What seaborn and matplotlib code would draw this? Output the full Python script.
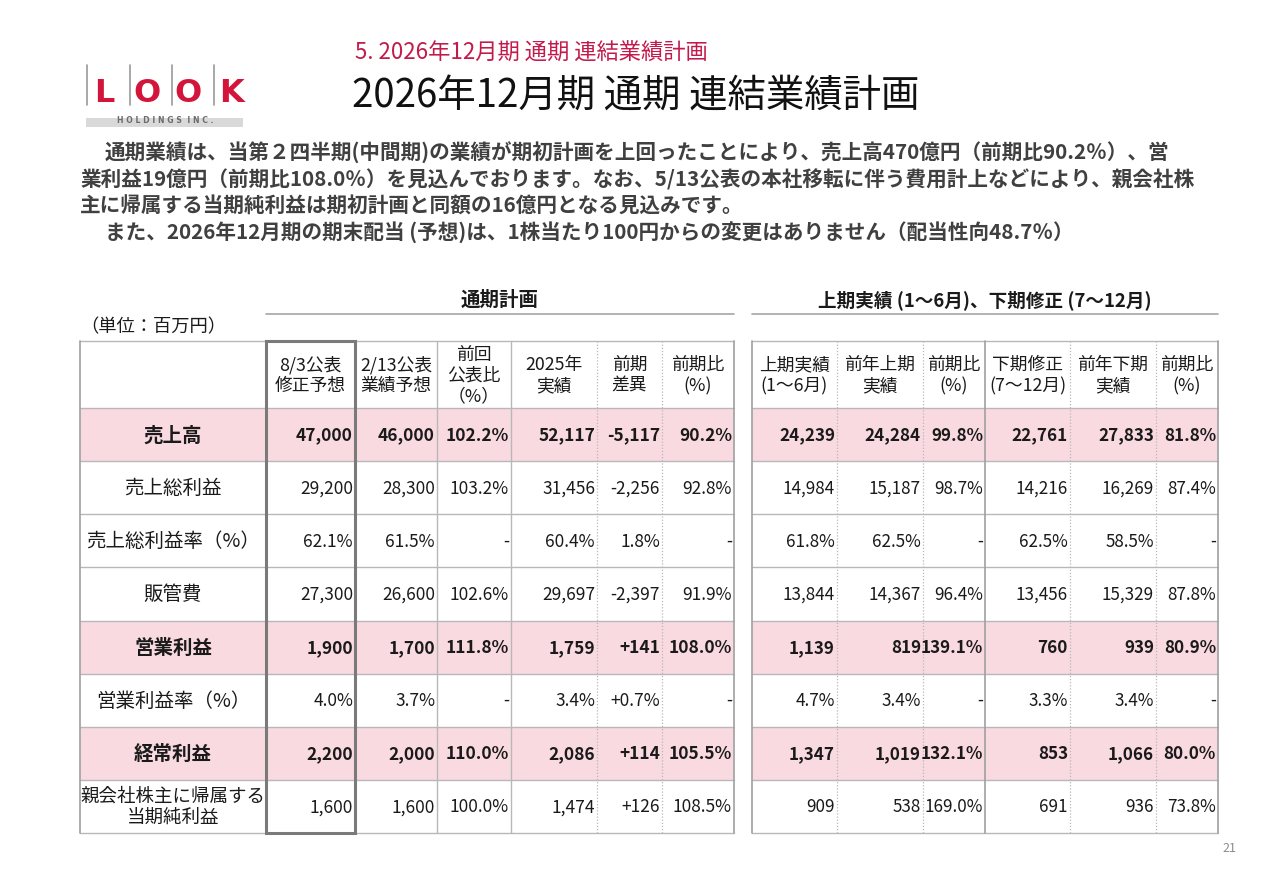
import matplotlib
matplotlib.use("Agg")
import matplotlib.pyplot as plt
from matplotlib.colors import ListedColormap
import numpy as np
import seaborn as sns

# ---------------- data ----------------
row_labels = ["売上高", "売上総利益", "売上総利益率（%）", "販管費", "営業利益",
              "営業利益率（%）", "経常利益", "親会社株主に帰属する\n当期純利益"]
row_kind = ["amt", "amt", "pct", "amt", "amt", "pct", "amt", "amt"]
row_highlight = [1, 0, 0, 0, 1, 0, 1, 0]

left_headers = ["8/3公表\n修正予想", "2/13公表\n業績予想", "前回\n公表比\n（%）",
                "2025年\n実績", "前期\n差異", "前期比\n(%)"]
right_headers = ["上期実績\n(1～6月)", "前年上期\n実績", "前期比\n(%)",
                 "下期修正\n(7～12月)", "前年下期\n実績", "前期比\n(%)"]

plan_revised = [47000, 29200, 62.1, 27300, 1900, 4.0, 2200, 1600]
plan_prev = [46000, 28300, 61.5, 26600, 1700, 3.7, 2000, 1600]
plan_vs_prev = [102.2, 103.2, None, 102.6, 111.8, None, 110.0, 100.0]
actual_2025 = [52117, 31456, 60.4, 29697, 1759, 3.4, 2086, 1474]
yoy_diff = ["-5,117", "-2,256", "1.8%", "-2,397", "+141", "+0.7%", "+114", "+126"]
yoy_ratio = [90.2, 92.8, None, 91.9, 108.0, None, 105.5, 108.5]

h1_actual = [24239, 14984, 61.8, 13844, 1139, 4.7, 1347, 909]
h1_prev = [24284, 15187, 62.5, 14367, 819, 3.4, 1019, 538]
h1_ratio = [99.8, 98.7, None, 96.4, 139.1, None, 132.1, 169.0]
h2_revised = [22761, 14216, 62.5, 13456, 760, 3.3, 853, 691]
h2_prev = [27833, 16269, 58.5, 15329, 939, 3.4, 1066, 936]
h2_ratio = [81.8, 87.4, None, 87.8, 80.9, None, 80.0, 73.8]

# ---------------- style ----------------
sns.set_theme(style="white")
plt.rcParams["font.family"] = ["Noto Sans CJK JP", "DejaVu Sans"]

W, H = 1280, 886
fig = plt.figure(figsize=(W / 100, H / 100), dpi=100)
fig.patch.set_facecolor("white")
renderer = fig.canvas.get_renderer()

PINK = "#f9dae1"
GRID = "#b8b8b8"
TXT = "#1a1a1a"


def px_axes(x0, y0, x1, y1, z=1):
    a = fig.add_axes([x0 / W, 1 - y1 / H, (x1 - x0) / W, (y1 - y0) / H])
    a.set_zorder(z)
    return a


ax = px_axes(0, 0, W, H, z=3)
ax.set_xlim(0, W)
ax.set_ylim(H, 0)
ax.axis("off")
ax.patch.set_alpha(0)


def fit(t, target):
    bb = t.get_window_extent(renderer)
    t.set_fontsize(t.get_fontsize() * target / bb.width)
    return t.get_fontsize()


# ---------------- logo ----------------
logo_red = "#d4153b"
for xb in [87, 130, 172, 214]:
    ax.plot([xb, xb], [65, 105], color="#9a9a9a", lw=1.2)
for ch, xc in zip("LOOK", [104, 147, 188, 232]):
    ax.text(xc, 93, ch, color=logo_red, fontsize=23, fontweight="bold",
            family=["DejaVu Sans"], ha="center", va="center")
ax.add_patch(plt.Rectangle((86, 118), 157, 9, color="#d9d9d9", lw=0))
t = ax.text(117, 120, "H O L D I N G S  I N C .", color="#6b6b6b", fontsize=7,
            family=["DejaVu Sans"], fontweight="bold", ha="left", va="center")
fit(t, 96)

# ---------------- titles ----------------
t = ax.text(355, 53, "5. 2026年12月期 通期 連結業績計画", color="#c41a4b",
            fontsize=15, ha="left", va="center")
fit(t, 353)
t = ax.text(352, 97, "2026年12月期 通期 連結業績計画", color="#111111",
            fontsize=27, ha="left", va="center")
fit(t, 568)

body = [
    (105, 153, "通期業績は、当第２四半期(中間期)の業績が期初計画を上回ったことにより、売上高470億円（前期比90.2％）、営"),
    (80, 180, "業利益19億円（前期比108.0％）を見込んでおります。なお、5/13公表の本社移転に伴う費用計上などにより、親会社株"),
    (80, 206, "主に帰属する当期純利益は期初計画と同額の16億円となる見込みです。"),
    (105, 233, "また、2026年12月期の期末配当 (予想)は、1株当たり100円からの変更はありません（配当性向48.7％）"),
]
btexts = []
for x, y, s in body:
    btexts.append(ax.text(x, y, s, color="#404040", fontsize=14,
                          fontweight="bold", ha="left", va="center"))
s1 = fit(btexts[0], 1192 - 105)
s2 = fit(btexts[1], 1196 - 80)
bs = min(s1, s2)
for bt in btexts:
    bt.set_fontsize(bs)

# ---------------- table geometry ----------------
cols_left = [80, 266, 355, 437, 511, 597, 662, 734]
cols_right = [752, 837, 923, 985, 1070, 1156, 1218]
y_top, y_head = 341, 408
y_bot = 833
n = len(row_labels)
row_h = (y_bot - y_head) / n
row_edges = [y_head + i * row_h for i in range(n + 1)]

# row backgrounds via seaborn heatmap
cmap = ListedColormap(["#ffffff", PINK])
hl = np.array(row_highlight).reshape(-1, 1)
for x0, x1 in [(cols_left[0], cols_left[-1]), (cols_right[0], cols_right[-1])]:
    hax = px_axes(x0, y_head, x1, y_bot, z=1)
    sns.heatmap(hl, ax=hax, cmap=cmap, vmin=0, vmax=1, cbar=False,
                xticklabels=False, yticklabels=False, linewidths=0)
    hax.axis("off")

# group titles
ax.text((cols_left[1] + cols_left[-1]) / 2, 300, "通期計画", fontsize=14,
        fontweight="bold", color=TXT, ha="center", va="center")
ax.plot([cols_left[1], cols_left[-1]], [314, 314], color="#a6a6a6", lw=1.2)
t = ax.text(818, 300, "上期実績 (1～6月)、下期修正 (7～12月)", fontsize=14,
            fontweight="bold", color=TXT, ha="left", va="center")
fit(t, 334)
ax.plot([cols_right[0], cols_right[-1]], [314, 314], color="#a6a6a6", lw=1.2)
t = ax.text(80, 327, "（単位：百万円）", fontsize=13, color=TXT,
            ha="left", va="center")
fit(t, 146)

# grid lines
for cols in (cols_left, cols_right):
    for ye in [y_top] + row_edges:
        ax.plot([cols[0], cols[-1]], [ye, ye], color=GRID, lw=1.0)
    ax.plot([cols[0], cols[0]], [y_top, y_bot], color="#a0a0a0", lw=1.2)
    ax.plot([cols[-1], cols[-1]], [y_top, y_bot], color="#a0a0a0", lw=1.2)

for xv in [437, 511]:
    ax.plot([xv, xv], [y_top, y_bot], color=GRID, lw=1.0)
for xv in [597, 662, 837, 923, 1070, 1156]:
    ax.plot([xv, xv], [y_top, y_bot], color=GRID, lw=0.9, ls=(0, (1, 1.5)))
ax.plot([985, 985], [y_top, y_bot], color="#a0a0a0", lw=1.2)
# highlighted column box
ax.add_patch(plt.Rectangle((266, y_top), 355 - 266, y_bot - y_top, fill=False,
                           edgecolor="#7a7a7a", lw=2.2, zorder=5))

# headers
head_y = (y_top + y_head) / 2 + 1
for i, h in enumerate(left_headers):
    xc = (cols_left[i + 1] + cols_left[i + 2]) / 2
    ax.text(xc, head_y, h, fontsize=12.8, color=TXT, ha="center", va="center",
            linespacing=1.2, multialignment="center")
for i, h in enumerate(right_headers):
    xc = (cols_right[i] + cols_right[i + 1]) / 2
    ax.text(xc, head_y, h, fontsize=12.8, color=TXT, ha="center", va="center",
            linespacing=1.2, multialignment="center")


def fmt(v, kind, ratio=False):
    if v is None:
        return "-"
    if ratio or kind == "pct":
        return f"{v:.1f}%"
    return f"{v:,.0f}"


left_cols_data = [plan_revised, plan_prev, plan_vs_prev, actual_2025, yoy_diff, yoy_ratio]
left_is_ratio = [False, False, True, False, None, True]
right_cols_data = [h1_actual, h1_prev, h1_ratio, h2_revised, h2_prev, h2_ratio]
right_is_ratio = [False, False, True, False, False, True]

for r in range(n):
    yc = (row_edges[r] + row_edges[r + 1]) / 2 + 1
    bold = row_highlight[r] == 1
    fw = "bold" if bold else "normal"
    lab = row_labels[r]
    ax.text((cols_left[0] + cols_left[1]) / 2, yc, lab,
            fontsize=14 if "\n" not in lab else 13.3, fontweight=fw, color=TXT,
            ha="center", va="center", linespacing=1.2, multialignment="center")
    for j, col in enumerate(left_cols_data):
        v = col[r]
        s = v if isinstance(v, str) else fmt(v, row_kind[r], left_is_ratio[j])
        ax.text(cols_left[j + 2] - 2, yc, s, fontsize=12.5, fontweight=fw,
                color=TXT, ha="right", va="center")
    for j, col in enumerate(right_cols_data):
        v = col[r]
        s = fmt(v, row_kind[r], right_is_ratio[j])
        ax.text(cols_right[j + 1] - 2, yc, s, fontsize=12.3, fontweight=fw,
                color=TXT, ha="right", va="center")

ax.text(1229, 848, "21", fontsize=9, color="#8c8c8c", ha="center", va="center")

fig.savefig("out.png", dpi=100, facecolor="white")
